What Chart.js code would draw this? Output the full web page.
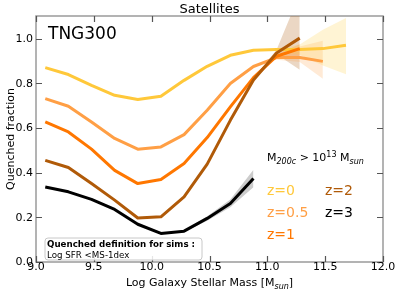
<!DOCTYPE html>
<html>
<head>
<meta charset="utf-8">
<script src="https://cdn.jsdelivr.net/npm/chart.js@4.4.1/dist/chart.umd.min.js"></script>
<style>
  html, body { margin: 0; padding: 0; background: #fff; }
  #wrap { width: 399px; height: 291px; }
</style>
</head>
<body>
<div id="wrap"><canvas id="quenchChart"></canvas></div>
<script>
// log stellar mass bin centres
const mass = [9.08, 9.28, 9.48, 9.68, 9.88, 10.08, 10.28, 10.48, 10.68, 10.88, 11.08, 11.28, 11.48, 11.68];

// quenched fraction per redshift
const fracZ0  = [0.870, 0.839, 0.791, 0.746, 0.727, 0.742, 0.813, 0.876, 0.925, 0.948, 0.951, 0.951, 0.955, 0.970];
const fracZ05 = [0.731, 0.697, 0.627, 0.553, 0.505, 0.515, 0.570, 0.679, 0.799, 0.875, 0.915, 0.915, 0.898];
const fracZ1  = [0.627, 0.582, 0.505, 0.410, 0.351, 0.369, 0.441, 0.557, 0.694, 0.825, 0.921, 0.955];
const fracZ2  = [0.455, 0.423, 0.351, 0.277, 0.197, 0.202, 0.291, 0.438, 0.634, 0.815, 0.935, 1.002];
const fracZ3  = [0.336, 0.314, 0.280, 0.235, 0.169, 0.128, 0.138, 0.195, 0.262, 0.374];

// error bands (first bin index, lower, upper)
const bandZ0Start = 10, bandZ0Lo = [0.946, 0.928, 0.880, 0.840], bandZ0Hi = [0.956, 0.973, 1.040, 1.092];
const bandZ05Start = 10, bandZ05Lo = [0.905, 0.895, 0.820], bandZ05Hi = [0.930, 0.965, 0.990];
const bandZ1Start = 10, bandZ1Lo = [0.912, 0.918], bandZ1Hi = [0.930, 0.975];
const bandZ2Start = 9, bandZ2Lo = [0.810, 0.930, 0.860], bandZ2Hi = [0.822, 0.950, 1.200];
const bandZ3Start = 6, bandZ3Lo = [0.134, 0.185, 0.245, 0.335], bandZ3Hi = [0.142, 0.205, 0.280, 0.413];

const xTickLabels = ["9.0", "9.5", "10.0", "10.5", "11.0", "11.5", "12.0"];
const yTickLabels = ["0.0", "0.2", "0.4", "0.6", "0.8", "1.0"];

const colZ0 = "#FFC83A", colZ05 = "#FF9F45", colZ1 = "#FF7700", colZ2 = "#B05A08", colZ3 = "#000000";
const FONT = "'DejaVu Sans', sans-serif";

function pts(vals, start) {
  start = start || 0;
  return vals.map((v, i) => ({ x: mass[start + i], y: v }));
}

function lineSet(label, vals, color, order) {
  return {
    label, data: pts(vals), borderColor: color, borderWidth: 3,
    pointRadius: 0, tension: 0, fill: false, order,
    borderJoinStyle: "round", borderCapStyle: "butt"
  };
}

function bandSets(start, lo, hi, fillColor) {
  return [
    { data: pts(lo, start), borderWidth: 0, borderColor: "rgba(0,0,0,0)", pointRadius: 0, tension: 0, fill: false, order: 20 },
    { data: pts(hi, start), borderWidth: 0, borderColor: "rgba(0,0,0,0)", pointRadius: 0, tension: 0, fill: "-1", backgroundColor: fillColor, order: 20 }
  ];
}

const datasets = [
  ...bandSets(bandZ0Start, bandZ0Lo, bandZ0Hi, "rgba(255,205,60,0.22)"),
  ...bandSets(bandZ05Start, bandZ05Lo, bandZ05Hi, "rgba(255,160,70,0.22)"),
  ...bandSets(bandZ1Start, bandZ1Lo, bandZ1Hi, "rgba(255,120,0,0.22)"),
  ...bandSets(bandZ2Start, bandZ2Lo, bandZ2Hi, "rgba(175,95,20,0.25)"),
  ...bandSets(bandZ3Start, bandZ3Lo, bandZ3Hi, "rgba(0,0,0,0.2)"),
  lineSet("z=0", fracZ0, colZ0, 5),
  lineSet("z=0.5", fracZ05, colZ05, 4),
  lineSet("z=1", fracZ1, colZ1, 3),
  lineSet("z=2", fracZ2, colZ2, 2),
  lineSet("z=3", fracZ3, colZ3, 1)
];

// draws a run of [text, size, dy, italic, bold] pieces
function drawRich(ctx, parts, x, y, align) {
  let total = 0;
  parts.forEach(p => {
    ctx.font = (p[3] ? "italic " : "") + (p[4] ? "bold " : "") + p[1] + "px " + FONT;
    total += ctx.measureText(p[0]).width;
  });
  let cx = align === "center" ? x - total / 2 : x;
  ctx.textAlign = "left";
  ctx.textBaseline = "alphabetic";
  parts.forEach(p => {
    ctx.font = (p[3] ? "italic " : "") + (p[4] ? "bold " : "") + p[1] + "px " + FONT;
    ctx.fillText(p[0], cx, y + p[2]);
    cx += ctx.measureText(p[0]).width;
  });
}

const decorPlugin = {
  id: "decor",
  beforeDatasetsDraw(chart) {
    const { ctx, chartArea: a, scales } = chart;
    ctx.save();
    // frame
    ctx.strokeStyle = "#9a9a9a";
    ctx.lineWidth = 1.5;
    ctx.strokeRect(a.left, a.top, a.right - a.left, a.bottom - a.top);
    // inward ticks on all four sides
    ctx.strokeStyle = "#555";
    ctx.lineWidth = 1.2;
    ctx.beginPath();
    xTickLabels.forEach(t => {
      const px = Math.round(scales.x.getPixelForValue(parseFloat(t))) + 0.5;
      ctx.moveTo(px, a.bottom); ctx.lineTo(px, a.bottom - 6);
      ctx.moveTo(px, a.top); ctx.lineTo(px, a.top + 6);
    });
    yTickLabels.forEach(t => {
      const py = Math.round(scales.y.getPixelForValue(parseFloat(t))) + 0.5;
      ctx.moveTo(a.left, py); ctx.lineTo(a.left + 6, py);
      ctx.moveTo(a.right, py); ctx.lineTo(a.right - 6, py);
    });
    ctx.stroke();
    ctx.restore();
  },
  afterDraw(chart) {
    const { ctx, chartArea: a, scales } = chart;
    ctx.save();
    ctx.fillStyle = "#000";
    // tick labels
    ctx.font = "11px " + FONT;
    ctx.textAlign = "center";
    ctx.textBaseline = "alphabetic";
    xTickLabels.forEach(t => ctx.fillText(t, scales.x.getPixelForValue(parseFloat(t)), 270));
    ctx.textAlign = "right";
    ctx.textBaseline = "middle";
    yTickLabels.forEach(t => ctx.fillText(t, 33, scales.y.getPixelForValue(parseFloat(t)) + 0.5));

    // title and axis titles
    ctx.font = "13px " + FONT;
    ctx.textAlign = "center";
    ctx.textBaseline = "alphabetic";
    ctx.fillText("Satellites", (a.left + a.right) / 2, 13);
    drawRich(ctx, [["Log Galaxy Stellar Mass [M", 11, 0], ["sun", 8, 2.5, true], ["]", 11, 0]], (a.left + a.right) / 2, 286, "center");
    ctx.save();
    ctx.translate(14, (a.top + a.bottom) / 2);
    ctx.rotate(-Math.PI / 2);
    ctx.font = "11px " + FONT;
    ctx.textAlign = "center";
    ctx.fillText("Quenched fraction", 0, 0);
    ctx.restore();

    // in-panel annotations
    ctx.font = "17px " + FONT;
    ctx.textAlign = "left";
    ctx.fillText("TNG300", 48, 39);
    drawRich(ctx, [["M", 11, 0], ["200c", 8, 2.5, true], [" > 10", 11, 0], ["13", 8, -4.5], [" M", 11, 0], ["sun", 8, 2.5, true]], 267, 161, "left");

    ctx.font = "14px " + FONT;
    [["z=0", colZ0, 267, 195], ["z=0.5", colZ05, 267, 217], ["z=1", colZ1, 267, 239],
     ["z=2", colZ2, 325, 195], ["z=3", colZ3, 325, 217]].forEach(z => {
      ctx.fillStyle = z[1];
      ctx.fillText(z[0], z[2], z[3]);
    });

    // definition box
    const bx = 45, by = 238, bw = 157, bh = 22, r = 3;
    ctx.beginPath();
    ctx.moveTo(bx + r, by);
    ctx.arcTo(bx + bw, by, bx + bw, by + bh, r);
    ctx.arcTo(bx + bw, by + bh, bx, by + bh, r);
    ctx.arcTo(bx, by + bh, bx, by, r);
    ctx.arcTo(bx, by, bx + bw, by, r);
    ctx.closePath();
    ctx.fillStyle = "rgba(255,255,255,0.85)";
    ctx.fill();
    ctx.strokeStyle = "#c8c8c8";
    ctx.lineWidth = 1;
    ctx.stroke();
    ctx.fillStyle = "#000";
    ctx.font = "bold 8.7px " + FONT;
    ctx.fillText("Quenched definition for sims :", 47, 246.5);
    ctx.font = "8.7px " + FONT;
    ctx.fillText("Log SFR <MS-1dex", 47, 257.5);
    ctx.restore();
  }
};

new Chart(document.getElementById("quenchChart"), {
  type: "line",
  data: { datasets },
  options: {
    responsive: true,
    maintainAspectRatio: false,
    animation: false,
    layout: { padding: { left: 36, right: 16, top: 16, bottom: 29 } },
    scales: {
      x: { type: "linear", min: 9, max: 12, display: false },
      y: { type: "linear", min: 0, max: 1.101, display: false }
    },
    plugins: {
      legend: { display: false },
      tooltip: { enabled: false },
      filler: { propagate: false }
    }
  },
  plugins: [decorPlugin]
});
</script>
</body>
</html>
